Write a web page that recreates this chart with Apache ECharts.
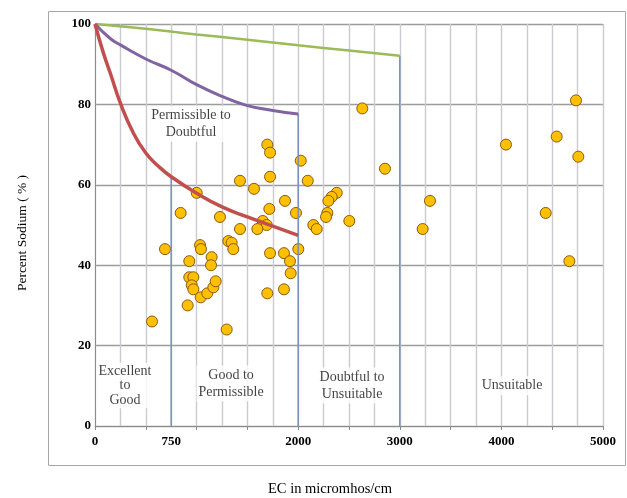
<!DOCTYPE html>
<html>
<head>
<meta charset="utf-8">
<script src="https://cdn.jsdelivr.net/npm/echarts@6/dist/echarts.min.js"></script>
<style>html,body{margin:0;padding:0;background:#fff}#c{width:627px;height:498px}</style>
</head>
<body>
<div id="c"></div>
<script>
// X tick labels shown on the EC axis
const xTickLabels = {0:'0', 750:'750', 2000:'2000', 3000:'3000', 4000:'4000', 5000:'5000'};
const yTicks = [0, 20, 40, 60, 80, 100];

// Sample points: [EC micromhos/cm, Percent Sodium]
const samples = [
  [561,26],[689,44],[843,53],[1001,58],[1230,52],[1427,61],[1427,49],
  [1034,45],[1043,44],[928,41],[1148,42],[1142,40],[928,37],[968,37],
  [952,35],[968,34],[1040,32],[1105,33],[1165,34.5],[1188,36],[912,30],
  [1296,24],[1312,46],[1345,45.6],[1361,44],[1696,70],[1723,68],[2025,66],
  [1723,62],[1565,59],[2094,61],[1870,56],[1716,54],[1978,53],[2379,58],
  [2330,57],[2297,56],[2287,53],[2274,52],[2503,51],[1651,51],[1690,50],
  [1598,49],[2149,50],[2182,49],[1723,43],[1860,43],[2001,44],[1919,41],
  [1926,38],[1696,33],[1860,34],[2631,79],[2854,64],[3297,56],[3225,49],
  [4045,70],[4544,72],[4734,81],[4757,67],[4436,53],[4669,41]
];

// Class boundary curves
const curveRed = [[0,100],[80,93],[150,87.8],[250,80.3],[375,73],[500,67.9],[625,64.6],[750,62],[1000,57.9],[1250,54.5],[1500,52],[1750,49.7],[2000,47.4]];
const curvePurple = [[0,100],[150,96.4],[250,94.8],[500,91.3],[750,88.5],[1000,84.9],[1250,82],[1500,79.7],[1750,78.5],[2000,77.6]];
const curveGreen = [[0,100],[500,98.8],[1000,97.4],[1500,96.1],[2000,94.7],[2500,93.4],[3000,92.1]];

// Vertical class boundaries
const boundary750 = [[750,0],[750,62]];
const boundary2000 = [[2000,0],[2000,77.6]];
const boundary3000 = [[3000,0],[3000,92.1]];

// Region annotations: [x, y, text]
const regionLabels = [
  [945, 75.1, 'Permissible to\nDoubtful'],
  [295, 10.1, 'Excellent\nto\nGood'],
  [1339, 10.6, 'Good to\nPermissible'],
  [2530, 10.1, 'Doubtful to\nUnsuitable'],
  [4105, 10.0, 'Unsuitable']
];
const regionLineHeights = [17, 14.5, 17, 17, 17];

const serif = '"Liberation Serif", "DejaVu Serif", serif';
const chart = echarts.init(document.getElementById('c'), null, {renderer: 'canvas'});

function lineSeries(data, color, width, smooth, z) {
  return {
    type: 'line', data: data, smooth: smooth, showSymbol: false, symbol: 'none',
    lineStyle: {color: color, width: width}, z: z, silent: true, animation: false
  };
}

chart.setOption({
  animation: false,
  backgroundColor: '#fff',
  grid: {left: 95, right: 24, top: 24, bottom: 72},
  xAxis: [{
    type: 'value', min: 0, max: 5000, interval: 250,
    axisLine: {show: true, lineStyle: {color: '#8c8c8c', width: 1}},
    axisTick: {show: false},
    axisLabel: {
      margin: 9, fontFamily: serif, fontWeight: 'bold', fontSize: 13, color: '#000',
      formatter: function (v) { return xTickLabels[v] !== undefined ? xTickLabels[v] : ''; }
    },
    splitLine: {show: true, lineStyle: {color: '#cacad0', width: 1.4}}
  }, {
    type: 'value', min: 0, max: 5000, interval: 500, position: 'bottom', offset: 0,
    axisLine: {show: false},
    axisTick: {show: true, length: 4, lineStyle: {color: '#8c8c8c'}},
    axisLabel: {show: false},
    splitLine: {show: false}
  }],
  yAxis: {
    type: 'value', min: 0, max: 100, interval: 20,
    axisLine: {show: true, lineStyle: {color: '#8c8c8c', width: 1}},
    axisTick: {show: false},
    axisLabel: {margin: 4, fontFamily: serif, fontWeight: 'bold', fontSize: 13, color: '#000',
      formatter: function (v) { return yTicks.indexOf(v) >= 0 ? String(v) : ''; }},
    splitLine: {show: true, lineStyle: {color: '#9c9c9c', width: 1.4}}
  },
  graphic: [
    {type: 'rect', shape: {x: 48.5, y: 11.5, width: 577, height: 454},
     style: {fill: 'none', stroke: '#a6a6a6', lineWidth: 1}, silent: true, z: -1},
    {type: 'text', x: 22, y: 233, rotation: Math.PI / 2,
     style: {text: 'Percent Sodium ( % )', font: '13.5px ' + serif, fill: '#000', align: 'center', verticalAlign: 'middle'}},
    {type: 'text', x: 330, y: 489,
     style: {text: 'EC in micromhos/cm', font: '14.5px ' + serif, fill: '#000', align: 'center', verticalAlign: 'middle'}}
  ],
  series: [
    {
      type: 'scatter', data: samples, symbol: 'circle', symbolSize: 11,
      itemStyle: {color: '#FFC000', borderColor: '#8a5a12', borderWidth: 1, opacity: 1},
      z: 3, silent: true
    },
    lineSeries(boundary750, '#7590bd', 1.5, false, 4),
    lineSeries(boundary2000, '#7590bd', 1.5, false, 4),
    lineSeries(boundary3000, '#7590bd', 1.5, false, 4),
    lineSeries(curveGreen, '#9BBB59', 2.5, true, 5),
    lineSeries(curvePurple, '#8064A2', 3, true, 5),
    lineSeries(curveRed, '#C0504D', 3.5, true, 5),
    {
      type: 'scatter', symbolSize: 0, silent: true, z: 6,
      data: regionLabels.map(function (r, i) {
        return {value: [r[0], r[1]], name: r[2], label: {lineHeight: regionLineHeights[i]}};
      }),
      label: {
        show: true, position: 'inside', formatter: '{b}',
        fontFamily: serif, fontSize: 14, color: '#111',
        backgroundColor: '#fff', padding: [1, 2], align: 'center', verticalAlign: 'middle'
      }
    }
  ]
});
</script>
</body>
</html>
